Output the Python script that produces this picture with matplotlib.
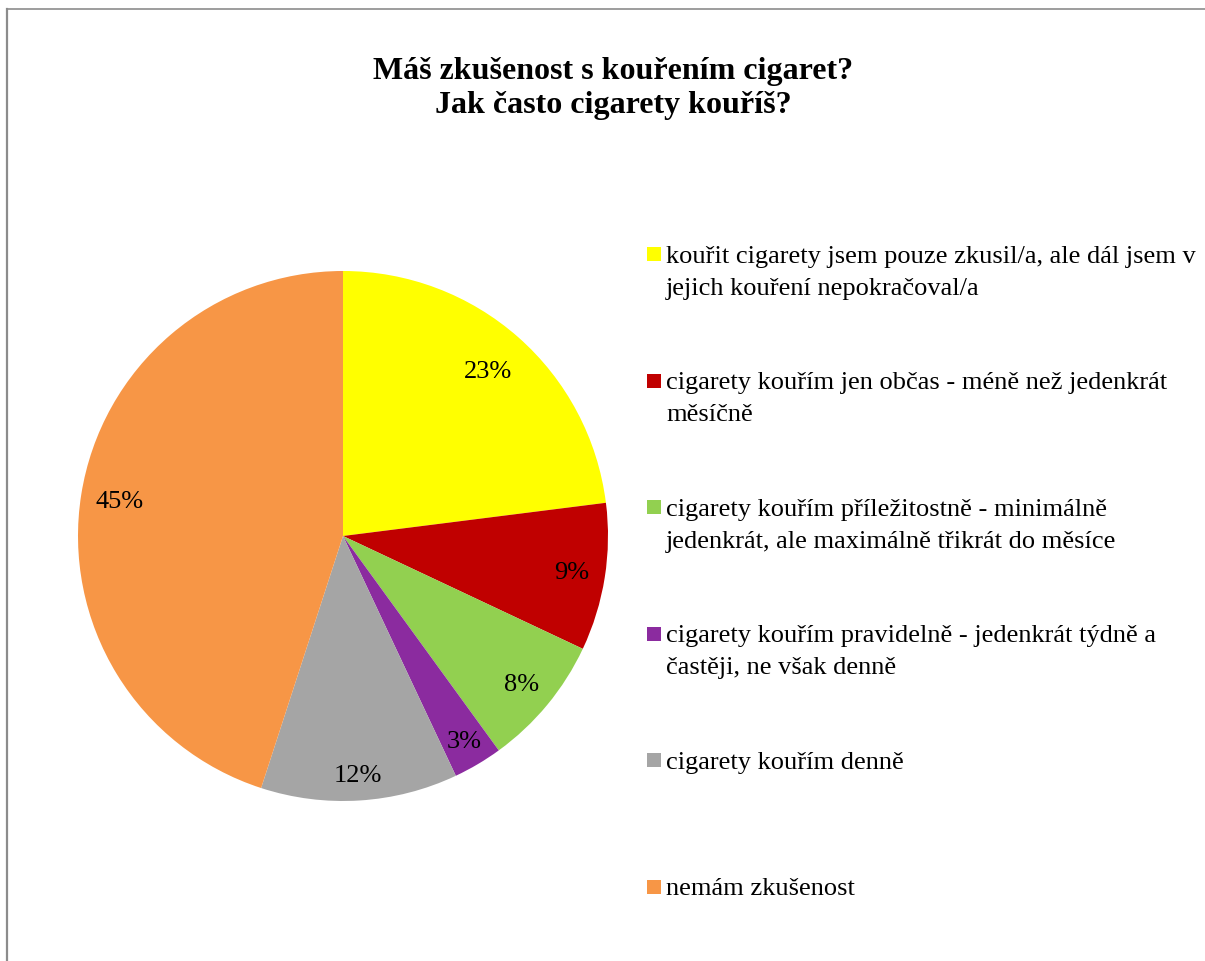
import numpy as np
import matplotlib.pyplot as plt
from matplotlib.patches import Rectangle
from matplotlib.lines import Line2D

plt.rcParams['font.family'] = ['Liberation Serif', 'DejaVu Serif']

# odpovědi a podíly v procentech
odpovedi = [
    "kouřit cigarety jsem pouze zkusil/a, ale dál jsem v\njejich kouření nepokračoval/a",
    "cigarety kouřím jen občas - méně než jedenkrát\nměsíčně",
    "cigarety kouřím příležitostně - minimálně\njedenkrát, ale maximálně třikrát do měsíce",
    "cigarety kouřím pravidelně - jedenkrát týdně a\nčastěji, ne však denně",
    "cigarety kouřím denně",
    "nemám zkušenost",
]
podily = [23, 9, 8, 3, 12, 45]
barvy = ['#FFFF00', '#C00000', '#92D050', '#8B2B9F', '#A5A5A5', '#F79646']
nadpis = ["Máš zkušenost s kouřením cigaret?", "Jak často cigarety kouříš?"]

# vzdálenost popisků od středu (podíl poloměru) pro jednotlivé výseče
vzdal_popisku = [0.83, 0.875, 0.875, 0.9, 0.905, 0.855]

W, H = 1205, 962
fig = plt.figure(figsize=(W / 100, H / 100), dpi=100)

# šedý rámeček grafu (vlevo a nahoře)
fig.add_artist(Line2D([7 / W, 7 / W], [0, 1 - 10 / H], color='#8c8c8c', lw=1.6,
                      transform=fig.transFigure))
fig.add_artist(Line2D([7 / W, 1], [1 - 10 / H, 1 - 10 / H], color='#8c8c8c', lw=1.2,
                      transform=fig.transFigure))

# koláč: střed (343, 537), poloměr 265 px
cx, cy, r = 343, 537, 265
ax = fig.add_axes([(cx - r) / W, (H - cy - r) / H, 2 * r / W, 2 * r / H])
wedges, texts, autotexts = ax.pie(
    podily, colors=barvy, startangle=90, counterclock=False,
    autopct=lambda p: f'{p:.0f}%', pctdistance=0.87,
    textprops={'fontsize': 19, 'color': 'black'},
    wedgeprops={'linewidth': 0})

# posun popisků podle úhlu výseče
for w, t, d in zip(wedges, autotexts, vzdal_popisku):
    uhel = np.deg2rad((w.theta1 + w.theta2) / 2)
    t.set_position((d * np.cos(uhel), d * np.sin(uhel)))

ax.set_xlim(-1, 1)
ax.set_ylim(-1, 1)
ax.set_aspect('equal')
ax.axis('off')

# nadpis - každý řádek zvlášť
for j, radek in enumerate(nadpis):
    fig.text(613 / W, 1 - (72 + 33 * j) / H, radek, ha='center', va='center',
             fontsize=23, fontweight='bold')

# legenda
y0, krok, radkovani = 263, 126.5, 32
for i, (txt, c) in enumerate(zip(odpovedi, barvy)):
    yb = y0 + i * krok
    fig.add_artist(Rectangle((647 / W, 1 - (yb - 1) / H), 14 / W, 14 / H,
                             facecolor=c, edgecolor='none', transform=fig.transFigure))
    for j, radek in enumerate(txt.split('\n')):
        fig.text(666 / W, 1 - (yb + j * radkovani) / H, radek, ha='left',
                 va='baseline', fontsize=19)

plt.savefig('out.png', dpi=100)
